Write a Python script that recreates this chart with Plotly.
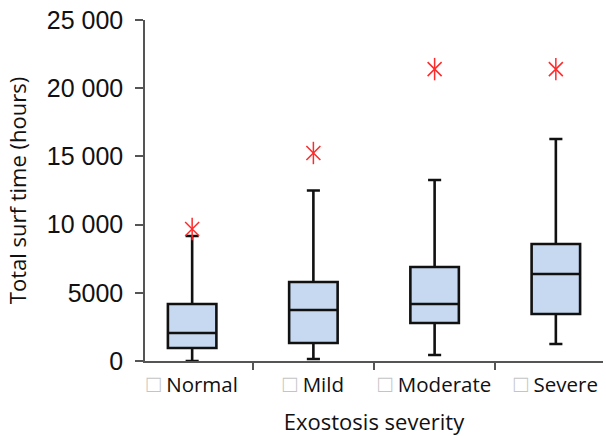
import plotly.graph_objects as go

categories = ["Normal", "Mild", "Moderate", "Severe"]
q1 = [950, 1320, 2790, 3450]
median = [2050, 3740, 4180, 6380]
q3 = [4180, 5790, 6890, 8580]
lower = [0, 150, 440, 1250]
upper = [9160, 12500, 13270, 16280]
outliers = [9680, 15250, 21400, 21400]
ytick_vals = [0, 5000, 10000, 15000, 20000, 25000]
ytick_text = ["0", "5000", "10 000", "15 000", "20 000", "25 000"]

ticklabels = ['<span style="color:#c4c4c4;font-size:24px">□</span> ' + c for c in categories]

fig = go.Figure()
fig.add_trace(go.Box(
    x=ticklabels, q1=q1, median=median, q3=q3,
    lowerfence=lower, upperfence=upper,
    fillcolor="#c6d9f1", line=dict(color="#111111", width=2.6),
    width=0.4, whiskerwidth=0.27, boxpoints=False, hoverinfo="skip",
))
# outlier asterisk: an "X" plus a vertical stroke
for sym, sz in (("x-thin-open", 14), ("line-ns-open", 16)):
    fig.add_trace(go.Scatter(
        x=ticklabels, y=outliers, mode="markers",
        marker=dict(symbol=sym, size=sz, color="#ff2a2a",
                    line=dict(color="#ff2a2a", width=1.5)),
        hoverinfo="skip",
    ))

fig.update_layout(
    width=606, height=436,
    margin=dict(l=145, r=3, t=20, b=75),
    plot_bgcolor="white", paper_bgcolor="white",
    showlegend=False,
    font=dict(family="Open Sans", color="#111111"),
)
fig.update_xaxes(
    type="category", tickson="boundaries", ticks="outside", ticklen=7,
    tickcolor="#555555", tickwidth=1.5, tickangle=0, automargin=False,
    showline=True, linecolor="#555555", linewidth=1.5,
    showgrid=False, tickfont=dict(family="Open Sans", size=20.5, color="#111111"),
    ticklabelstandoff=5,
    title=dict(text="Exostosis severity", font=dict(family="Open Sans", size=22), standoff=18),
)
fig.update_yaxes(
    range=[0, 25000], tickvals=ytick_vals, ticktext=ytick_text,
    ticks="outside", ticklen=8, tickcolor="#555555", tickwidth=1.5, automargin=False,
    showline=True, linecolor="#555555", linewidth=1.5,
    showgrid=False, zeroline=False, ticklabeloverflow="allow",
    tickfont=dict(family="Liberation Sans", size=25, color="#111111"),
    ticklabelstandoff=7,
    title=dict(text="Total surf time (hours)", font=dict(family="Open Sans", size=22), standoff=14),
)

fig.write_html("out.html", config={"displayModeBar": False},
               post_script="document.body.style.margin='0';")
